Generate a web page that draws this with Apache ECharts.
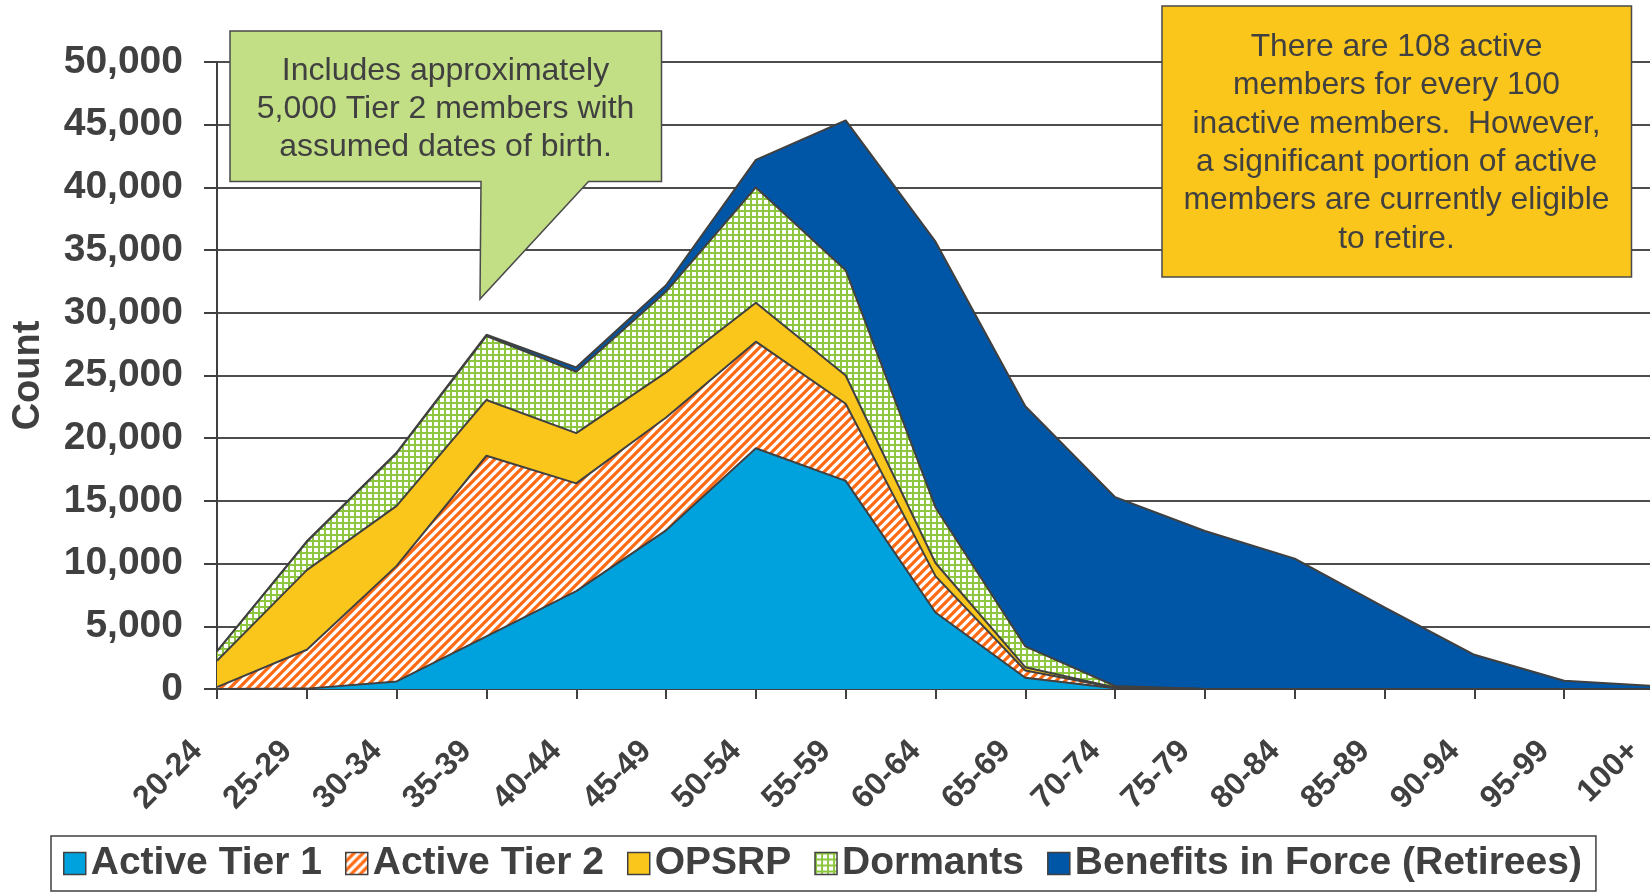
<!DOCTYPE html>
<html>
<head>
<meta charset="utf-8">
<script src="https://cdn.jsdelivr.net/npm/echarts@6/dist/echarts.min.js"></script>
<style>
html,body{margin:0;padding:0;background:#fff;}
#chart{width:1650px;height:893px;}
</style>
</head>
<body>
<div id="chart"></div>
<script>
// ---- data ----
const categories = ['20-24','25-29','30-34','35-39','40-44','45-49','50-54','55-59','60-64','65-69','70-74','75-79','80-84','85-89','90-94','95-99','100+'];
const activeTier1 = [0, 30, 600, 4200, 7800, 12650, 19200, 16600, 6100, 900, 60, 0, 0, 0, 0, 0, 0];
const activeTier2 = [150, 3100, 9220, 14400, 8600, 9000, 8500, 6150, 2900, 580, 40, 0, 0, 0, 0, 0, 0];
const opsrp = [2100, 6350, 4780, 4450, 4000, 3600, 3100, 2250, 1050, 260, 20, 0, 0, 0, 0, 0, 0];
const dormants = [750, 2260, 4200, 5100, 4900, 6450, 9200, 8400, 4430, 1660, 120, 0, 0, 0, 0, 0, 0];
const retirees = [0, 40, 50, 100, 350, 500, 2200, 11950, 21190, 19150, 15060, 12600, 10400, 6500, 2730, 660, 240];
const seriesNames = ['Active Tier 1', 'Active Tier 2', 'OPSRP', 'Dormants', 'Benefits in Force (Retirees)'];
const yMin = 0, yMax = 50000, yInterval = 5000;
const greenNote = 'Includes approximately\n5,000 Tier 2 members with\nassumed dates of birth.';
const yellowNote = 'There are 108 active\nmembers for every 100\ninactive members.  However,\na significant portion of active\nmembers are currently eligible\nto retire.';

// ---- styles ----
const FONT = '"Liberation Sans", Arial, Helvetica, sans-serif';
const TXT = '#404040';
const EDGE = '#404040';

function hatchPattern() {
  const s = 9, c = document.createElement('canvas');
  c.width = s; c.height = s;
  const g = c.getContext('2d');
  g.fillStyle = '#ffffff'; g.fillRect(0, 0, s, s);
  g.strokeStyle = '#ff6a13'; g.lineWidth = 3.2;
  g.beginPath();
  for (const k of [-s, 0, s]) { g.moveTo(k - 1, s + 1); g.lineTo(k + s + 1, -1); }
  g.stroke();
  return { image: c, repeat: 'repeat' };
}
function gridPattern() {
  const s = 6, c = document.createElement('canvas');
  c.width = s; c.height = s;
  const g = c.getContext('2d');
  g.fillStyle = '#ffffff'; g.fillRect(0, 0, s, s);
  g.fillStyle = '#8dc63f';
  g.fillRect(0, 0, s, 2); g.fillRect(0, 0, 2, s);
  return { image: c, repeat: 'repeat' };
}

const fills = ['#00a2de', hatchPattern(), '#fbc61b', gridPattern(), '#0056a6'];
const values = [activeTier1, activeTier2, opsrp, dormants, retirees];

const chart = echarts.init(document.getElementById('chart'), null, { renderer: 'canvas' });

const series = seriesNames.map((name, i) => ({
  name: name,
  type: 'line',
  stack: 'total',
  data: values[i],
  symbol: 'none',
  z: 10 - i,
  lineStyle: { color: EDGE, width: 2 },
  areaStyle: { color: fills[i], opacity: 1 },
  itemStyle: { color: fills[i] },
  emphasis: { disabled: true },
  animation: false
}));

const option = {
  animation: false,
  backgroundColor: '#ffffff',
  grid: { left: 217, width: 1437, top: 62, bottom: 204, containLabel: false, outerBoundsMode: 'none' },
  xAxis: {
    type: 'category',
    data: categories,
    boundaryGap: false,
    axisLine: { show: true, lineStyle: { color: EDGE, width: 2 } },
    axisTick: { show: true, alignWithLabel: true, interval: 0, length: 10, lineStyle: { color: EDGE, width: 2 } },
    axisLabel: {
      interval: 0, rotate: 45, margin: 77, verticalAlign: 'bottom', lineHeight: 56,
      fontSize: 32, fontWeight: 'bold', color: TXT, fontFamily: FONT
    },
    splitLine: { show: false }
  },
  yAxis: {
    type: 'value',
    min: yMin, max: yMax, interval: yInterval,
    name: 'Count',
    nameLocation: 'middle',
    nameGap: 169,
    nameTextStyle: { fontSize: 38, fontWeight: 'bold', color: TXT, fontFamily: FONT },
    axisLine: { show: true, lineStyle: { color: EDGE, width: 2 } },
    axisTick: { show: true, length: 13, lineStyle: { color: EDGE, width: 2 } },
    axisLabel: {
      margin: 34, fontSize: 39, fontWeight: 'bold', color: TXT, fontFamily: FONT,
      formatter: v => v.toLocaleString('en-US')
    },
    splitLine: { show: true, lineStyle: { color: '#4d4d4d', width: 2 } }
  },
  legend: {
    left: 51, top: 836,
    icon: 'rect', itemWidth: 22, itemHeight: 22, itemGap: 23,
    padding: [8, 14, 8, 12],
    borderColor: EDGE, borderWidth: 1.5,
    selectedMode: false,
    textStyle: { fontSize: 39, fontWeight: 'bold', color: TXT, fontFamily: FONT },
    data: seriesNames.map((n, i) => ({
      name: n,
      itemStyle: { color: fills[i], borderColor: EDGE, borderWidth: 1.5 }
    }))
  },
  graphic: [
    {
      type: 'polygon', z: 100,
      shape: { points: [[230, 31], [661.5, 31], [661.5, 181.5], [588.5, 181.5], [480, 299], [481, 181.5], [230, 181.5]] },
      style: { fill: '#c3df85', stroke: '#4a4a4a', lineWidth: 1.5 }
    },
    {
      type: 'text', z: 101,
      style: {
        text: greenNote, x: 445.5, y: 109, align: 'center', verticalAlign: 'middle',
        fontSize: 32, fontFamily: FONT, lineHeight: 38, fill: TXT
      }
    },
    {
      type: 'rect', z: 100,
      shape: { x: 1162, y: 6, width: 469.5, height: 271 },
      style: { fill: '#fbc61b', stroke: '#4a4a4a', lineWidth: 1.5 }
    },
    {
      type: 'text', z: 101,
      style: {
        text: yellowNote, x: 1396.5, y: 143, align: 'center', verticalAlign: 'middle',
        fontSize: 31.8, fontFamily: FONT, lineHeight: 38.4, fill: TXT
      }
    }
  ],
  series: series
};

chart.setOption(option);
</script>
</body>
</html>
